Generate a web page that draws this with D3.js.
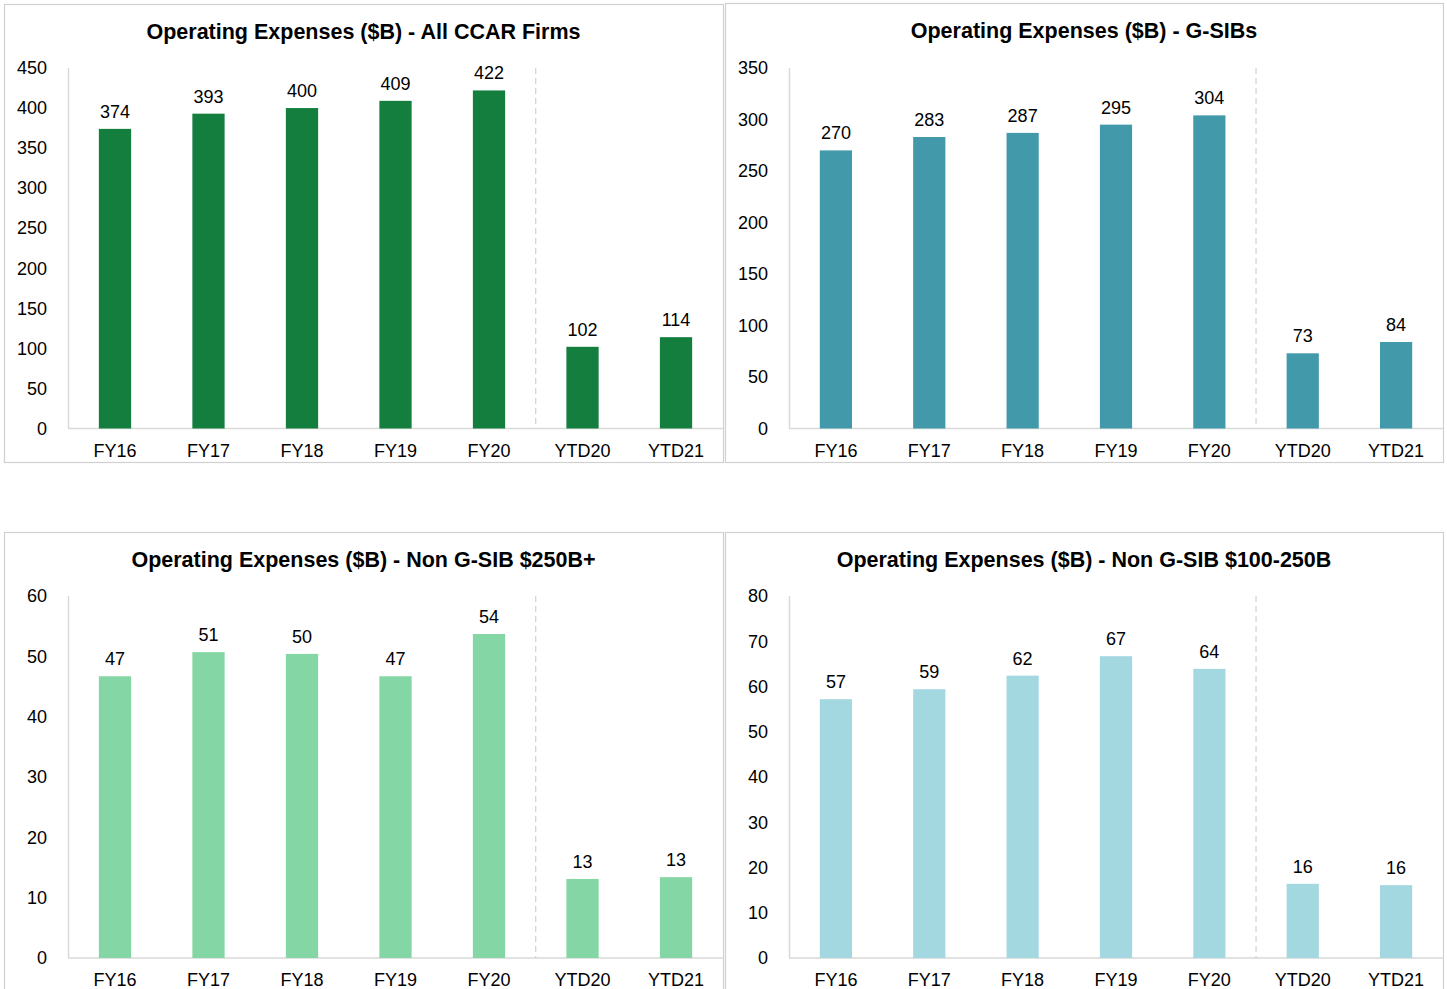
<!DOCTYPE html>
<html>
<head>
<meta charset="utf-8">
<script src="https://d3js.org/d3.v7.min.js"></script>
<style>
  body { margin: 0; background: #ffffff; }
  text { font-family: "Liberation Sans", Arial, sans-serif; fill: #000; }
</style>
</head>
<body>
<div id="chart"></div>
<script>
// categories shared by all four panels
var categories = ["FY16", "FY17", "FY18", "FY19", "FY20", "YTD20", "YTD21"];

// values ($B)
var allCcar = [374, 393, 400, 409, 422, 102, 114];
var gSibs = [270, 283, 287, 295, 304, 73, 84];
var nonGsib250 = [46.7, 50.7, 50.4, 46.7, 53.7, 13.1, 13.4];
var nonGsib100 = [57.2, 59.4, 62.4, 66.7, 63.9, 16.4, 16.1];

var titles = [
  "Operating Expenses ($B) - All CCAR Firms",
  "Operating Expenses ($B) - G-SIBs",
  "Operating Expenses ($B) - Non G-SIB $250B+",
  "Operating Expenses ($B) - Non G-SIB $100-250B"
];
var yMax = [450, 350, 60, 80];
var yStep = [50, 50, 10, 10];
var colors = ["#147e3f", "#4299a9", "#84d7a4", "#a4d8e1"];

var W = 1447, H = 989;
var svg = d3.select("#chart").append("svg")
  .attr("width", W)
  .attr("height", H);

var panels = [
  {x0: 4, y0: 4, x1: 723, y1: 462, data: allCcar},
  {x0: 725, y0: 3, x1: 1443, y1: 462, data: gSibs},
  {x0: 4, y0: 532, x1: 723, y1: 1000, data: nonGsib250},
  {x0: 725, y0: 532, x1: 1443, y1: 1000, data: nonGsib100}
];

panels.forEach(function(p, i) {
  var g = svg.append("g");

  g.append("rect")
    .attr("x", p.x0 + 0.5).attr("y", p.y0 + 0.5)
    .attr("width", p.x1 - p.x0).attr("height", p.y1 - p.y0)
    .attr("fill", "#fff")
    .attr("stroke", "#d0d0d0")
    .attr("stroke-width", 1.2);

  var top = i < 2 ? 68 : 596;
  var bottom = i < 2 ? 428.5 : 958;
  var left = p.x0 + 64;

  g.append("text")
    .attr("x", (p.x0 + p.x1) / 2)
    .attr("y", p.y0 + 35)
    .attr("text-anchor", "middle")
    .style("font-size", "21.5px")
    .style("font-weight", "bold")
    .text(titles[i]);

  var x = d3.scaleBand()
    .domain(categories)
    .range([left, p.x1])
    .paddingInner(0.655)
    .paddingOuter(0.33);

  var y = d3.scaleLinear()
    .domain([0, yMax[i]])
    .range([bottom, top]);

  // y axis labels
  var yAxis = d3.axisLeft(y)
    .tickValues(d3.range(0, yMax[i] + 0.001, yStep[i]))
    .tickSize(0)
    .tickPadding(21);
  var ya = g.append("g")
    .attr("transform", "translate(" + left + ",0)")
    .call(yAxis);
  ya.select(".domain").remove();
  ya.selectAll("text")
    .style("font-size", "18px")
    .attr("font-family", null);

  // axis lines
  g.append("line")
    .attr("x1", left + 0.5).attr("x2", left + 0.5)
    .attr("y1", top).attr("y2", bottom)
    .attr("stroke", "#d9d9d9").attr("stroke-width", 1.5);
  g.append("line")
    .attr("x1", left).attr("x2", p.x1)
    .attr("y1", bottom).attr("y2", bottom)
    .attr("stroke", "#d9d9d9").attr("stroke-width", 1.5);

  // dashed separator between FY and YTD
  var sepX = (x("FY20") + x.bandwidth() + x("YTD20")) / 2;
  g.append("line")
    .attr("x1", sepX).attr("x2", sepX)
    .attr("y1", top).attr("y2", bottom)
    .attr("stroke", "#c8c8c8")
    .attr("stroke-width", 1)
    .attr("stroke-dasharray", "6,4");

  g.selectAll(".bar")
    .data(p.data)
    .enter().append("rect")
    .attr("x", function(d, j) { return x(categories[j]); })
    .attr("y", function(d) { return y(d); })
    .attr("width", x.bandwidth())
    .attr("height", function(d) { return bottom - y(d); })
    .attr("fill", colors[i]);

  g.selectAll(".val")
    .data(p.data)
    .enter().append("text")
    .attr("x", function(d, j) { return x(categories[j]) + x.bandwidth() / 2; })
    .attr("y", function(d) { return y(d) - 11; })
    .attr("text-anchor", "middle")
    .style("font-size", "18px")
    .text(function(d) { return d3.format(".0f")(d); });

  // x labels
  g.selectAll(".xl")
    .data(categories)
    .enter().append("text")
    .attr("x", function(d) { return x(d) + x.bandwidth() / 2; })
    .attr("y", bottom + 28)
    .attr("text-anchor", "middle")
    .style("font-size", "18px")
    .text(function(d) { return d; });
});
</script>
</body>
</html>
